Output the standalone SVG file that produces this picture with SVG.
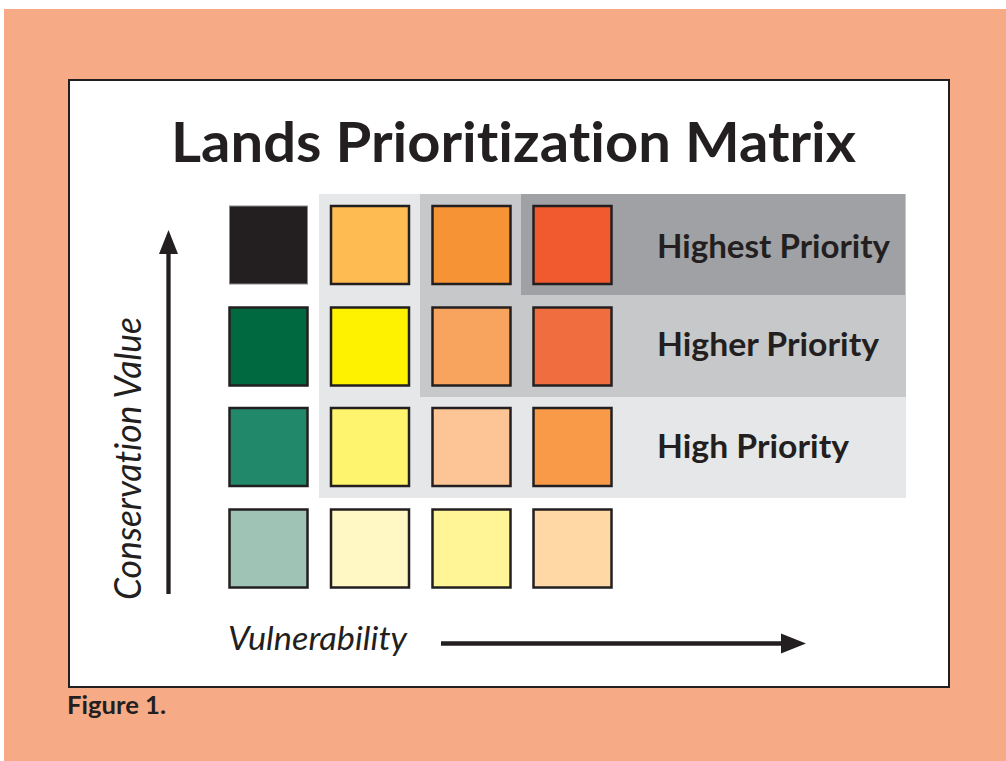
<svg xmlns="http://www.w3.org/2000/svg" width="1006" height="761" viewBox="0 0 1006 761">
<style>
.sq{stroke:#231f20;stroke-width:2.5}
.t{font-family:Lato,"Open Sans","Liberation Sans",sans-serif;fill:#231f20;font-variant-ligatures:none}
.b{font-weight:bold}
.i{font-style:italic;font-weight:normal}
.ax{stroke:#231f20;stroke-width:4.3;fill:none}
</style>
<rect x="0" y="0" width="1006" height="761" fill="#ffffff"/>
<rect x="4" y="9" width="1002" height="752" fill="#f7aa86"/>
<rect id="frame" x="69" y="80" width="880" height="607" fill="#ffffff" stroke="#231f20" stroke-width="2"/>
<text id="title" class="t b" x="513.5" y="162" font-size="56" text-anchor="middle" textLength="685" lengthAdjust="spacingAndGlyphs">Lands Prioritization Matrix</text>
<g id="bands">
<rect x="319" y="194" width="587" height="304" fill="#e6e7e8"/>
<rect x="420" y="194" width="486" height="203" fill="#c7c8ca"/>
<rect x="521" y="194" width="384" height="101" fill="#a0a1a4"/>
</g>
<g id="row1">
<rect x="229.5" y="206" width="78" height="78" fill="#231f20" stroke="#8a8a8a" stroke-width="1"/>
<rect class="sq" x="331" y="206" width="78" height="78" fill="#fdbb52"/>
<rect class="sq" x="432.5" y="206" width="78" height="78" fill="#f69435"/>
<rect class="sq" x="533.5" y="206" width="78" height="78" fill="#f15a2f"/>
</g>
<g id="row2">
<rect class="sq" x="229.5" y="307.5" width="78" height="78" fill="#006940"/>
<rect class="sq" x="331" y="307.5" width="78" height="78" fill="#fff200"/>
<rect class="sq" x="432.5" y="307.5" width="78" height="78" fill="#f8a35e"/>
<rect class="sq" x="533.5" y="307.5" width="78" height="78" fill="#f06d3f"/>
</g>
<g id="row3">
<rect class="sq" x="229.5" y="408" width="78" height="78" fill="#22886a"/>
<rect class="sq" x="331" y="408" width="78" height="78" fill="#fff46d"/>
<rect class="sq" x="432.5" y="408" width="78" height="78" fill="#fdc595"/>
<rect class="sq" x="533.5" y="408" width="78" height="78" fill="#f89a48"/>
</g>
<g id="row4">
<rect class="sq" x="229.5" y="509.5" width="78" height="78" fill="#9fc3b5"/>
<rect class="sq" x="331" y="509.5" width="78" height="78" fill="#fff8c4"/>
<rect class="sq" x="432.5" y="509.5" width="78" height="78" fill="#fff597"/>
<rect class="sq" x="533.5" y="509.5" width="78" height="78" fill="#ffd8a5"/>
</g>
<g id="labels">
<text class="t b" x="657" y="258" font-size="32" textLength="233" lengthAdjust="spacingAndGlyphs">Highest Priority</text>
<text class="t b" x="657" y="356" font-size="32" textLength="222" lengthAdjust="spacingAndGlyphs">Higher Priority</text>
<text class="t b" x="657" y="458" font-size="32" textLength="192" lengthAdjust="spacingAndGlyphs">High Priority</text>
</g>
<g id="connectors">
<line class="ax" x1="168.5" y1="594" x2="168.5" y2="250"/>
<polygon points="168.5,230 159,254 178,254" fill="#231f20"/>
<line class="ax" x1="441" y1="643.5" x2="784" y2="643.5"/>
<polygon points="806,643.5 781,633.5 781,653.5" fill="#231f20"/>
</g>
<g id="axis-labels">
<text class="t i" transform="translate(141,600) rotate(-90)" font-size="36" textLength="283" lengthAdjust="spacingAndGlyphs">Conservation Value</text>
<text class="t i" x="228" y="650" font-size="32" textLength="179" lengthAdjust="spacingAndGlyphs">Vulnerability</text>
</g>
<text id="caption" class="t b" x="67" y="714" font-size="24" textLength="99" lengthAdjust="spacingAndGlyphs">Figure 1.</text>
</svg>
